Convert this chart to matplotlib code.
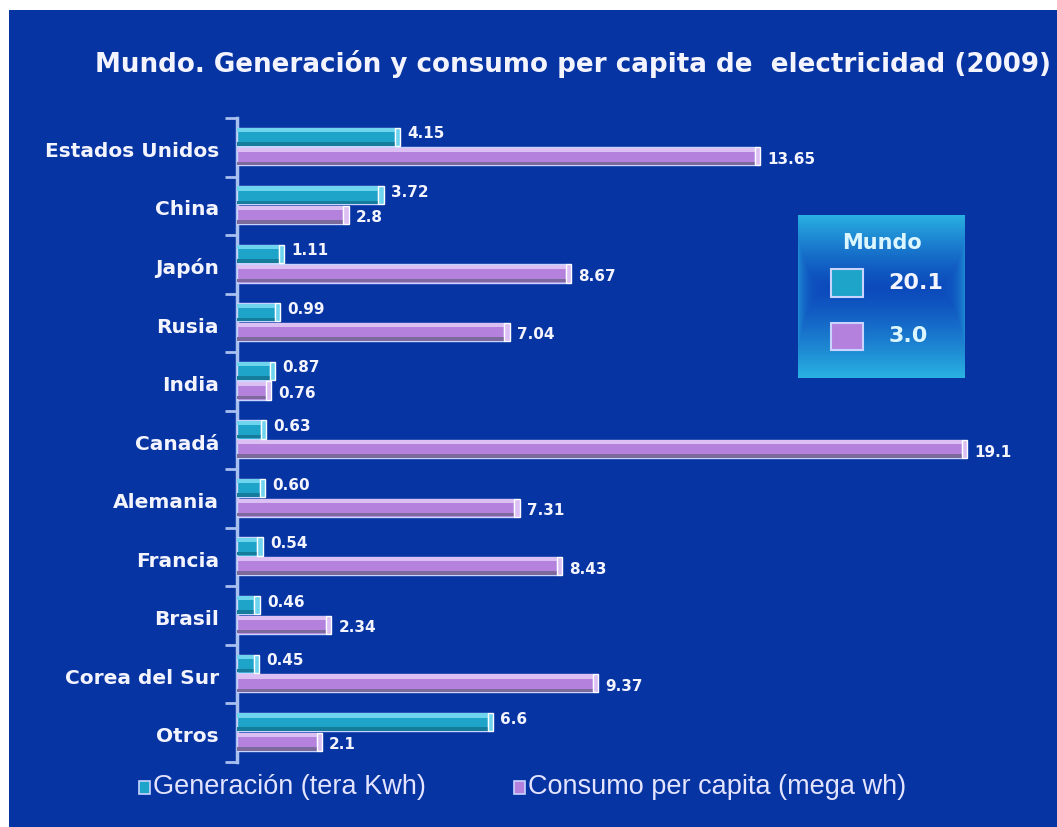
import matplotlib
matplotlib.use('Agg')
import matplotlib.pyplot as plt
from matplotlib.patches import Rectangle
import numpy as np

# Data
countries = ['Estados Unidos', 'China', 'Japón', 'Rusia', 'India', 'Canadá',
             'Alemania', 'Francia', 'Brasil', 'Corea del Sur', 'Otros']
generacion = [4.15, 3.72, 1.11, 0.99, 0.87, 0.63, 0.60, 0.54, 0.46, 0.45, 6.6]
consumo = [13.65, 2.8, 8.67, 7.04, 0.76, 19.1, 7.31, 8.43, 2.34, 9.37, 2.1]
gen_labels = ['4.15', '3.72', '1.11', '0.99', '0.87', '0.63', '0.60', '0.54', '0.46', '0.45', '6.6']
con_labels = ['13.65', '2.8', '8.67', '7.04', '0.76', '19.1', '7.31', '8.43', '2.34', '9.37', '2.1']
mundo_title = 'Mundo'
mundo_gen = '20.1'
mundo_con = '3.0'
title = 'Mundo. Generación y consumo per capita de  electricidad (2009)'
series_names = ['Generación (tera Kwh)', 'Consumo per capita (mega wh)']

BG = '#0634a2'
CYAN = '#1ea4c8'
CYAN_LIGHT = '#6fd4ee'
CYAN_DARK = '#157c9c'
VIOLET = '#b482dc'
VIOLET_LIGHT = '#dcc0f4'
VIOLET_DARK = '#7c6a9c'
EDGE = '#c8d4ff'
TEXT = '#f4f4ff'

W, H = 1057, 827
fig = plt.figure(figsize=(W / 100, H / 100), dpi=100)
fig.patch.set_facecolor('white')

# Blue panel (thin white margin on top and left)
bg_ax = fig.add_axes([9 / W, 0, 1 - 9 / W, 1 - 10 / H])
bg_ax.set_facecolor(BG)
bg_ax.set_xticks([]); bg_ax.set_yticks([])
for s in bg_ax.spines.values():
    s.set_visible(False)

fig.text(95 / W, 1 - 64 / H, title, color=TEXT, fontsize=18.8, fontweight='bold',
         ha='left', va='center', family='DejaVu Sans')

# Main bar axes
left_px, right_px, top_px, bot_px = 237, 1000, 118, 762
ax = fig.add_axes([left_px / W, 1 - bot_px / H, (right_px - left_px) / W, (bot_px - top_px) / H])
ax.set_facecolor('none')
n = len(countries)
ax.set_xlim(0, 20.1)
ax.set_ylim(n, 0)

idx = np.arange(n)
bh = 0.31
y_gen = idx + 0.32
y_con = idx + 0.655


def draw_series(yc, vals, base, light, dark):
    ax.barh(yc, vals, height=bh, color=base, edgecolor=EDGE, linewidth=1.0, zorder=3)
    ax.barh(yc - bh / 2 + 0.04, vals, height=0.07, color=light, linewidth=0, zorder=4)
    ax.barh(yc + bh / 2 - 0.035, vals, height=0.06, color=dark, linewidth=0, zorder=4)
    ax.barh(yc, [0.14] * len(vals), left=vals, height=bh, color=light,
            edgecolor='white', linewidth=1.0, zorder=5)


draw_series(y_gen, generacion, CYAN, CYAN_LIGHT, CYAN_DARK)
draw_series(y_con, consumo, VIOLET, VIOLET_LIGHT, VIOLET_DARK)

for yc, v, lab in zip(y_gen, generacion, gen_labels):
    ax.annotate(lab, (v, yc - 0.05), xytext=(9, 0), textcoords='offset points',
                color=TEXT, fontsize=11, fontweight='bold', va='center', ha='left', zorder=6)
for yc, v, lab in zip(y_con, consumo, con_labels):
    ax.annotate(lab, (v, yc + 0.05), xytext=(9, 0), textcoords='offset points',
                color=TEXT, fontsize=11, fontweight='bold', va='center', ha='left', zorder=6)

# Axis line with ticks at category boundaries
ax.set_xticks([])
ax.set_yticks(np.arange(n + 1))
ax.set_yticklabels([])
ax.tick_params(axis='y', direction='out', length=9, width=2, color='#a8c0f0')
for k in ['top', 'right', 'bottom']:
    ax.spines[k].set_visible(False)
ax.spines['left'].set_color('#a8c0f0')
ax.spines['left'].set_linewidth(2.5)

for i, name in enumerate(countries):
    ax.annotate(name, (0, i + 0.57), xytext=(-13, 0), textcoords='offset points',
                color=TEXT, fontsize=14.5, fontweight='bold', ha='right', va='center',
                annotation_clip=False)

# "Mundo" box with gradient
bx0, by0, bx1, by1 = 798, 215, 965, 378
lax = fig.add_axes([bx0 / W, 1 - by1 / H, (bx1 - bx0) / W, (by1 - by0) / H])
u = np.linspace(-1, 1, 200)
v = np.linspace(-1, 1, 200)
U, V = np.meshgrid(u, v)
Vs = np.where(V < -0.1, (V + 0.1) / 0.9, (V + 0.1) / 1.1)
f = np.clip(np.maximum(0.6 * np.abs(U) ** 10, np.abs(Vs) ** 1.3), 0, 1)
dark = np.array([0x0c, 0x4a, 0xbc]) / 255
light = np.array([0x2a, 0xb2, 0xe2]) / 255
img = dark[None, None, :] + f[..., None] * (light - dark)[None, None, :]
lax.imshow(img, extent=(0, 1, 0, 1), aspect='auto', origin='upper')
lax.set_xlim(0, 1); lax.set_ylim(0, 1)
lax.axis('off')
lax.text(0.5, 0.83, mundo_title, color='#dcf6ff', fontsize=15, fontweight='bold', ha='center', va='center')
lax.add_patch(Rectangle((0.2, 0.5), 0.19, 0.17, facecolor=CYAN, edgecolor=EDGE, linewidth=1.5))
lax.text(0.54, 0.585, mundo_gen, color=TEXT, fontsize=16, fontweight='bold', ha='left', va='center')
lax.add_patch(Rectangle((0.2, 0.17), 0.19, 0.17, facecolor=VIOLET, edgecolor=EDGE, linewidth=1.5))
lax.text(0.54, 0.255, mundo_con, color='#dcf6ff', fontsize=16, fontweight='bold', ha='left', va='center')

# Bottom legend
leg_y = 1 - 787 / H
sq_w, sq_h = 11 / W, 13 / H
fig.patches.append(Rectangle((139 / W, leg_y - sq_h / 2), sq_w, sq_h, transform=fig.transFigure,
                             facecolor=CYAN, edgecolor=EDGE, linewidth=1.2))
fig.text(153 / W, leg_y, series_names[0], color='#e4e4ff', fontsize=19.5,
         family='Liberation Sans', ha='left', va='center')
fig.patches.append(Rectangle((514 / W, leg_y - sq_h / 2), sq_w, sq_h, transform=fig.transFigure,
                             facecolor=VIOLET, edgecolor=EDGE, linewidth=1.2))
fig.text(528 / W, leg_y, series_names[1], color='#e4e4ff', fontsize=19.5,
         family='Liberation Sans', ha='left', va='center')

fig.savefig('out.png', dpi=100, facecolor=fig.get_facecolor())
